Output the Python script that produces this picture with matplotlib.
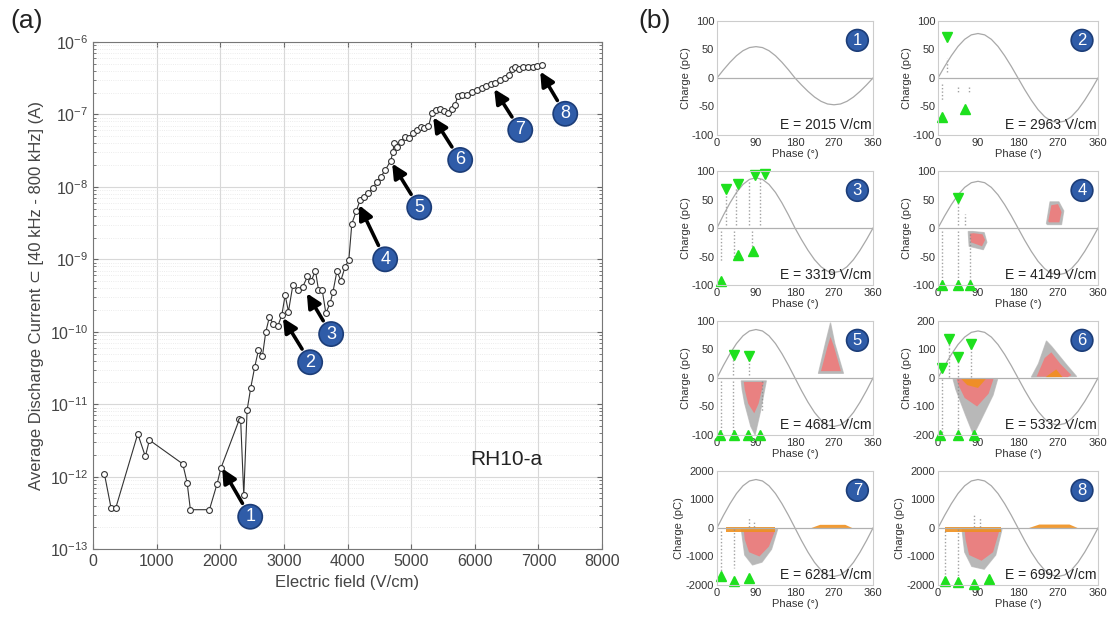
import matplotlib
matplotlib.use("Agg")
import matplotlib.pyplot as plt
import numpy as np

plt.rcParams["font.family"] = ["Liberation Sans", "DejaVu Sans"]

# ---- panel (a): average discharge current vs electric field
field = [178, 283, 357, 703, 822, 886, 1410, 1478, 1530, 1829, 1950, 2008,
         2300, 2320, 2369, 2421, 2479, 2542, 2600, 2662, 2715, 2772, 2835, 2904,
         2967, 3019, 3071, 3140, 3218, 3297, 3370, 3428, 3495, 3543, 3601, 3659,
         3726, 3769, 3832, 3895, 3962, 4020, 4067, 4135, 4198, 4261, 4329, 4397,
         4460, 4523, 4591, 4680, 4712, 4733, 4775, 4838, 4905, 4973, 5036, 5099,
         5152, 5209, 5272, 5325, 5388, 5456, 5519, 5577, 5640, 5692, 5730, 5797,
         5876, 5954, 6033, 6112, 6179, 6253, 6321, 6399, 6467, 6530, 6583, 6635,
         6687, 6757, 6828, 6907, 6976, 7055]
current = [1.1e-12, 3.7e-13, 3.7e-13, 3.9e-12, 1.9e-12, 3.2e-12, 1.5e-12, 8.3e-13, 3.5e-13, 3.5e-13, 8e-13, 1.3e-12,
           6.2e-12, 6e-12, 5.5e-13, 8.3e-12, 1.7e-11, 3.3e-11, 5.6e-11, 4.6e-11, 1e-10, 1.6e-10, 1.27e-10, 1.2e-10,
           1.7e-10, 3.2e-10, 1.9e-10, 4.4e-10, 3.8e-10, 4.2e-10, 5.8e-10, 5e-10, 7e-10, 3.8e-10, 3.8e-10, 1.8e-10,
           2.5e-10, 3.5e-10, 6.8e-10, 5.1e-10, 7.9e-10, 9.8e-10, 3.1e-9, 4.6e-9, 6.6e-9, 7.3e-9, 8.3e-9, 9.5e-9,
           1.17e-8, 1.38e-8, 1.7e-8, 2.3e-8, 3.05e-8, 4e-8, 3.5e-8, 4.2e-8, 4.9e-8, 4.7e-8, 5.5e-8, 6.1e-8,
           6.8e-8, 6.4e-8, 6.9e-8, 1.03e-7, 1.15e-7, 1.17e-7, 1.12e-7, 1.06e-7, 1.2e-7, 1.35e-7, 1.8e-7, 1.85e-7,
           1.85e-7, 2.06e-7, 2.2e-7, 2.35e-7, 2.5e-7, 2.6e-7, 2.75e-7, 3e-7, 3.15e-7, 3.5e-7, 4.2e-7, 4.55e-7,
           4.2e-7, 4.45e-7, 4.55e-7, 4.55e-7, 4.65e-7, 4.8e-7]

# arrow tips and label positions (field, current)
arrow_tip = [(2030, 1.3e-12), (2985, 1.55e-10), (3360, 3.4e-10), (4182, 5.6e-9),
             (4701, 2.1e-8), (5346, 9.1e-8), (6305, 2.24e-7), (7028, 3.9e-7)]
arrow_lbl = [(2470, 2.8e-13), (3412, 3.8e-11), (3742, 9.3e-11), (4591, 1.0e-9),
             (5126, 5.2e-9), (5770, 2.35e-8), (6714, 6.1e-8), (7421, 1.02e-7)]

# ---- panel (b): phase resolved patterns
labels_E = [2015, 2963, 3319, 4149, 4681, 5332, 6281, 6992]
ylims = [100, 100, 100, 100, 100, 200, 2000, 2000]
amp_pos = [55, 78, 88, 82, 85, 165, 1700, 1700]
amp_neg = [47, 78, 78, 82, 85, 165, 1700, 1700]
wave_phase = [0, 15, 30, 45, 60, 75, 90, 105, 120, 135, 150, 165, 180,
              195, 210, 225, 240, 255, 270, 285, 300, 315, 330, 345, 360]
wave_shape = [0, 0.26, 0.5, 0.71, 0.87, 0.97, 1, 0.97, 0.87, 0.71, 0.5, 0.26, 0,
              -0.26, -0.5, -0.71, -0.87, -0.97, -1, -0.97, -0.87, -0.71, -0.5, -0.26, 0]

# green markers (phase, charge)
tri_down = [[], [(20, 72)], [(20, 68), (48, 78), (88, 93), (110, 95)], [(45, 52)],
            [(40, 40), (75, 38)], [(8, 35), (25, 135), (45, 75), (75, 120)], [], []]
tri_up = [[], [(10, -68), (60, -55)], [(10, -93), (48, -48), (82, -40)],
          [(8, -100), (45, -100), (72, -100)], [(8, -100), (40, -100), (72, -100), (100, -100)],
          [(5, -200), (45, -200), (80, -200)], [(10, -1700), (40, -1850), (75, -1750)],
          [(15, -1850), (45, -1900), (80, -1950), (115, -1800)]]

# vertical streaks of sparse pulses (phase, charge from, charge to)
streaks = [[],
           [(10, -10, -40), (20, 10, 35), (45, -15, -25), (70, -15, -25)],
           [(20, 5, 60), (45, 5, 70), (75, 5, 85), (100, 5, 90), (10, -5, -60), (40, -5, -55), (80, -5, -40)],
           [(10, -5, -100), (45, -5, -100), (72, -10, -100), (45, 5, 45), (60, 5, 25)],
           [(10, -5, -100), (38, -5, -100), (75, 5, 35), (38, 5, 35), (105, -5, -60)],
           [(8, -5, -200), (25, 5, 130), (45, -5, -200), (45, 5, 70), (75, 5, 110)],
           [(10, -100, -1500), (40, -50, -1400), (75, 50, 400), (85, 50, 250)],
           [(15, -100, -1600), (45, -50, -1700), (80, 50, 500), (95, 50, 350)]]

# pulse clouds as outlines (phase list, charge list)
gray_clouds = [[], [], [],
               [([244, 252, 272, 283, 278, 246], [8, 46, 46, 30, 6, 6]),
                ([68, 78, 104, 110, 102, 70], [-6, -6, -8, -25, -38, -32])],
               [([234, 250, 262, 272, 292, 236], [8, 60, 97, 60, 8, 8]),
                ([56, 114, 100, 88, 78, 64, 58], [-5, -5, -60, -100, -85, -45, -20])],
               [([210, 226, 244, 256, 290, 312, 210], [3, 50, 130, 110, 45, 5, 3]),
                ([34, 134, 124, 96, 80, 62, 40], [-5, -5, -60, -150, -200, -130, -40])],
               [([56, 140, 126, 104, 82, 64], [-50, -50, -750, -1200, -1300, -950])],
               [([54, 144, 130, 104, 76, 60], [-50, -50, -950, -1450, -1350, -850])]]
red_clouds = [[], [], [],
              [([248, 255, 270, 278, 273, 250], [12, 40, 42, 28, 10, 10]),
               ([72, 80, 100, 106, 99, 74], [-10, -9, -11, -21, -32, -25])],
              [([240, 255, 262, 270, 286], [12, 55, 72, 55, 12]),
               ([62, 108, 96, 86, 72, 64], [-7, -7, -45, -62, -45, -20])],
              [([222, 240, 255, 275, 300, 292], [5, 70, 90, 50, 10, 3]),
               ([42, 125, 114, 88, 60, 46], [-3, -3, -55, -100, -70, -25])],
              [([62, 134, 120, 98, 74, 64], [-100, -100, -650, -1000, -850, -400])],
              [([60, 138, 124, 98, 70, 62], [-100, -100, -850, -1150, -950, -400])]]
orange_clouds = [[], [], [], [], [],
                 [([52, 108, 90, 66], [-3, -3, -35, -25]), ([242, 280, 266], [3, 3, 30])],
                 [([20, 135, 135, 20], [50, 50, -130, -130]), ([218, 312, 296, 238], [0, 0, 110, 110])],
                 [([15, 142, 142, 15], [50, 50, -130, -130]), ([205, 314, 296, 228], [0, 0, 120, 120])]]

blue = "#2f5ca8"
circ = dict(boxstyle="circle,pad=0.2", fc=blue, ec="#1c3d78", lw=1.2)

fig = plt.figure(figsize=(11.09, 6.17), dpi=100)

# ---------------- panel (a)
ax = fig.add_axes([0.0839, 0.110, 0.459, 0.822])
ax.plot(field, current, "-o", color="#333333", lw=0.8, ms=4.2, mfc="white", mec="#333333", mew=0.8)
ax.set_yscale("log")
ax.set_xlim(0, 8000)
ax.set_ylim(1e-13, 1e-6)
ax.set_xticks(range(0, 8001, 1000))
ax.grid(True, which="major", color="#d8d8d8", lw=0.8)
ax.grid(True, which="minor", axis="y", color="#e6e6e6", lw=0.6, ls=":")
ax.tick_params(which="both", direction="in", top=True, right=True, colors="#666666", labelsize=11.5)
ax.tick_params(axis="both", labelcolor="#444444")
for s in ax.spines.values():
    s.set_color("#777777")
ax.set_xlabel("Electric field (V/cm)", fontsize=12, color="#444444")
ax.set_ylabel("Average Discharge Current \u2282 [40 kHz - 800 kHz] (A)", fontsize=12, color="#444444")
ax.text(6500, 1.7e-12, "RH10-a", fontsize=15, color="#222222", ha="center", va="center")
for i, (tip, lbl) in enumerate(zip(arrow_tip, arrow_lbl)):
    ax.annotate(str(i + 1), xy=tip, xytext=lbl, ha="center", va="center",
                fontsize=13, color="white", bbox=circ,
                arrowprops=dict(arrowstyle="-|>,head_width=0.32,head_length=0.65",
                                color="black", lw=2.6, shrinkA=2, shrinkB=0))
fig.text(0.009, 0.955, "(a)", fontsize=19, color="#222222")
fig.text(0.576, 0.955, "(b)", fontsize=19, color="#222222")

# ---------------- panel (b)
lefts = [0.6465, 0.8458]
widths = [0.1407, 0.1443]
bottoms = [0.7812, 0.538, 0.295, 0.0519]
for k in range(8):
    r, c = divmod(k, 2)
    bx = fig.add_axes([lefts[c], bottoms[r], widths[c], 0.1848])
    lim = ylims[k]
    wave = [v * (amp_pos[k] if v > 0 else amp_neg[k]) for v in wave_shape]
    for ph, lo, hi in streaks[k]:
        bx.plot([ph, ph], [lo, hi], color="#8a8a8a", lw=1.0, ls=(0, (1, 1.5)), alpha=0.8)
    for xs, ys in gray_clouds[k]:
        bx.fill(xs, ys, color="#9a9a9a", alpha=0.7, lw=0.8, ec="#b5b5b5")
    for xs, ys in red_clouds[k]:
        bx.fill(xs, ys, color="#ef7b7b", alpha=0.9, lw=0)
    for xs, ys in orange_clouds[k]:
        bx.fill(xs, ys, color="#f0901e", alpha=0.9, lw=0)
    bx.plot(wave_phase, wave, color="#a8a8a8", lw=0.9)
    bx.axhline(0, color="#b0b0b0", lw=0.9)
    if tri_down[k]:
        px, py = zip(*tri_down[k])
        bx.plot(px, py, "v", color="#1ee01e", ms=6.5, clip_on=False)
    if tri_up[k]:
        px, py = zip(*tri_up[k])
        bx.plot(px, py, "^", color="#1ee01e", ms=6.5, clip_on=False)
    bx.set_xlim(0, 360)
    bx.set_ylim(-lim, lim)
    bx.set_xticks([0, 90, 180, 270, 360])
    bx.set_yticks([-lim, -lim / 2, 0, lim / 2, lim])
    bx.set_yticklabels([f"{int(v)}" for v in [-lim, -lim / 2, 0, lim / 2, lim]])
    bx.tick_params(length=0, labelsize=8, colors="#333333", pad=2)
    for s in bx.spines.values():
        s.set_color("#cccccc")
    bx.set_xlabel("Phase (\u00b0)", fontsize=8, color="#333333", labelpad=1)
    bx.set_ylabel("Charge (pC)", fontsize=8, color="#333333", labelpad=1)
    bx.text(0.99, 0.03, f"E = {labels_E[k]} V/cm", transform=bx.transAxes,
            ha="right", va="bottom", fontsize=10, color="#222222")
    bx.text(0.9, 0.83, str(k + 1), transform=bx.transAxes, ha="center", va="center",
            fontsize=12, color="white", bbox=circ)

fig.savefig("out.png", dpi=100)
